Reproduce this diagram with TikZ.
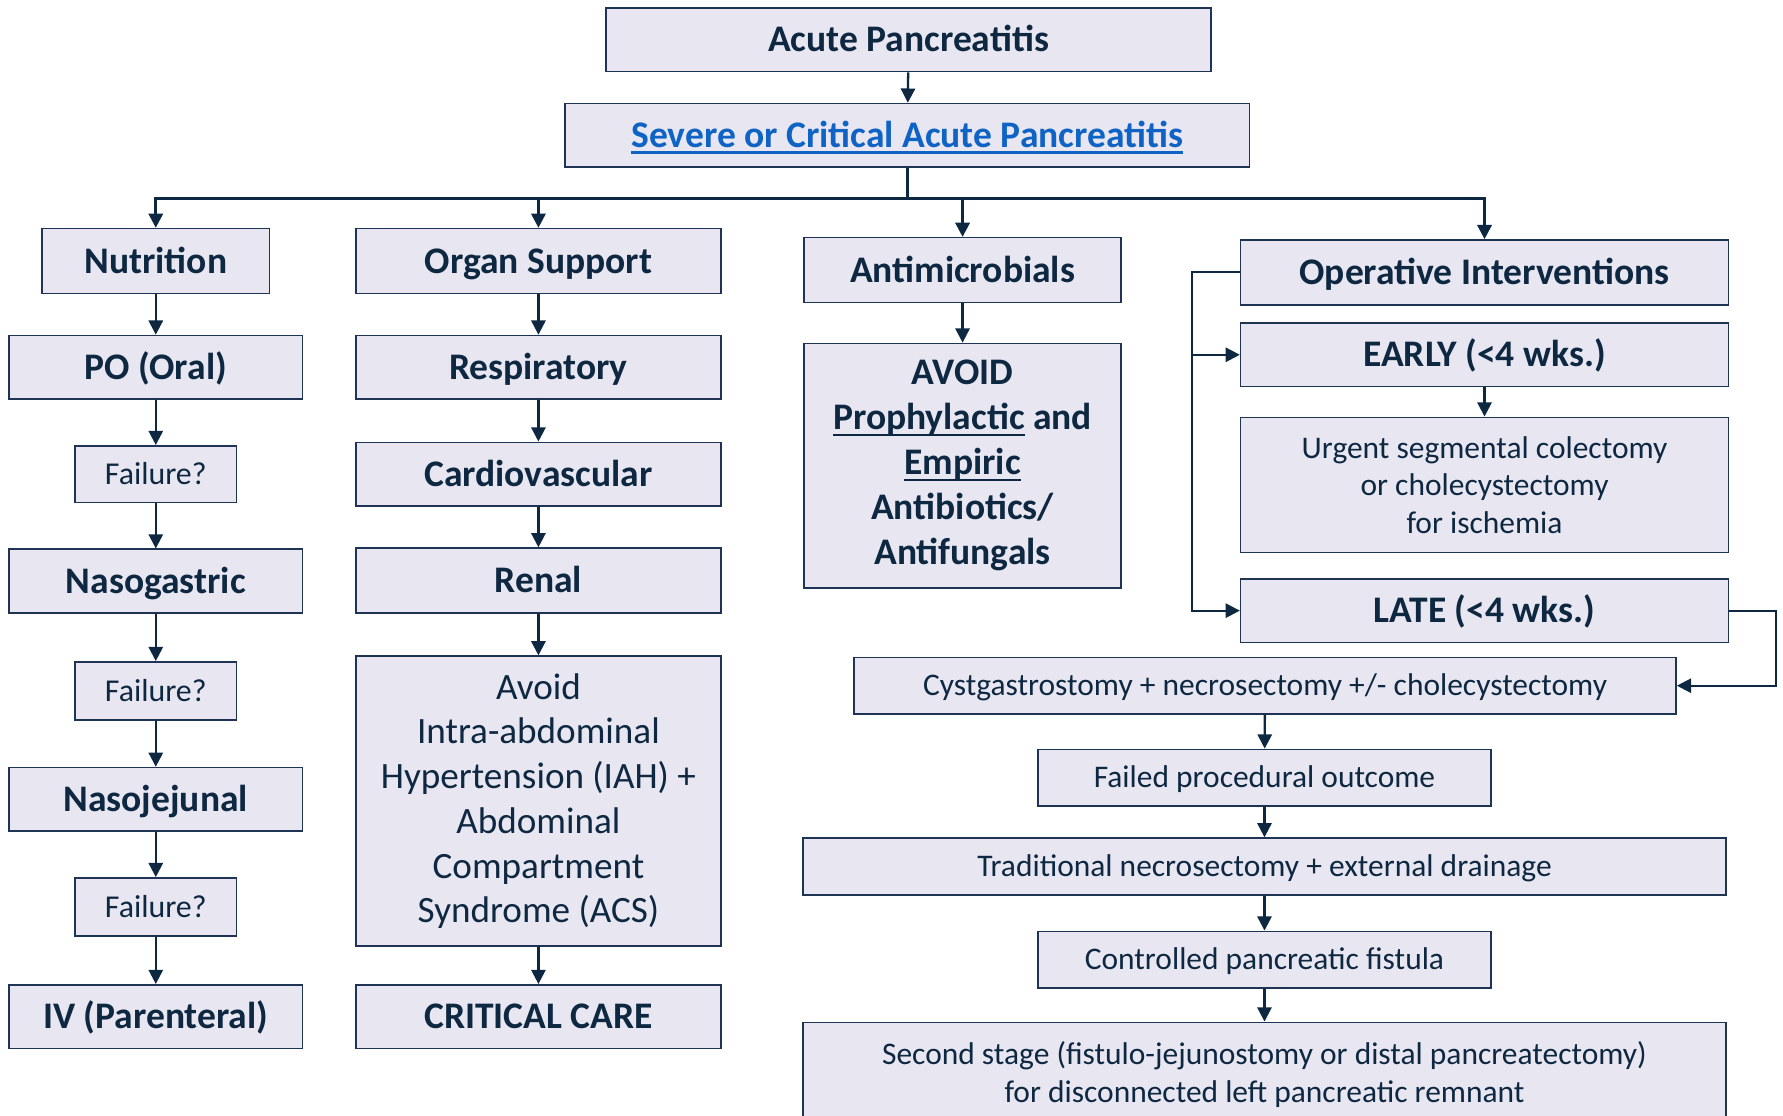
\documentclass[tikz,border=0pt]{standalone}
\usepackage{fontspec}
\setmainfont{Carlito}
\usetikzlibrary{arrows.meta}
\definecolor{fillc}{HTML}{E8E6F1}
\definecolor{navy}{HTML}{0E2841}
\definecolor{edgec}{HTML}{1F3355}
\definecolor{linkblue}{HTML}{0F63C5}
\newcommand\ulthick[1]{\setbox0\hbox{#1}\rlap{\box0}\setbox0\hbox{#1}\raisebox{-3.2pt}{\rule{\wd0}{1.1pt}}}
\tikzset{
  bx/.style 2 args={draw=edgec, line width=0.8pt, fill=fillc, text=navy, inner sep=0pt, align=center,
    minimum width=#1*0.6pt, minimum height=#2*0.6pt},
  bold/.style={font=\fontsize{19.8}{23.7}\selectfont\bfseries, text height=12.8pt, text depth=0pt},
  reg/.style={font=\fontsize{16.6}{19.8}\selectfont},
  reg1/.style={font=\fontsize{16.6}{19.8}\selectfont, text height=10.7pt, text depth=0pt},
  fl/.style={font=\fontsize{16.8}{20}\selectfont, text height=10.8pt, text depth=0pt},
  arr/.style={draw=navy, line width=1.2pt, -{Triangle[length=7.5pt,width=7.5pt]}},
  ln/.style={draw=navy, line width=1.2pt},
}
\begin{document}
\begin{tikzpicture}[x=0.6pt,y=-0.6pt]
\useasboundingbox (0,0) rectangle (1568,981);
% top
\node[bx={532}{56}, bold] (ap) at (799,35) {Acute Pancreatitis};
\node[bx={602}{56}, bold, text=linkblue] (sev) at (798,119) {\ulthick{Severe or Critical Acute Pancreatitis}};
% headers
\node[bx={200}{57}, bold] (nut) at (137,229.5) {Nutrition};
\node[bx={321}{57}, bold] (org) at (473.5,229.5) {Organ Support};
\node[bx={279}{57}, bold] (ant) at (846.5,237.5) {Antimicrobials};
\node[bx={429}{57}, bold] (op) at (1305.5,239.5) {Operative Interventions};
% column 1
\node[bx={258}{56}, bold] (po) at (137,323) {PO (Oral)};
\node[bx={142}{50}, fl] (f1) at (137,417) {Failure?};
\node[bx={258}{56}, bold] (ng) at (137,511) {Nasogastric};
\node[bx={142}{51}, fl] (f2) at (137,607.5) {Failure?};
\node[bx={258}{56}, bold] (nj) at (137,703) {Nasojejunal};
\node[bx={142}{51}, fl] (f3) at (137,797.5) {Failure?};
\node[bx={258}{56}, bold] (iv) at (137,894) {IV (Parenteral)};
% column 2
\node[bx={321}{56}, bold] (resp) at (473.5,323) {Respiratory};
\node[bx={321}{56}, bold] (cardio) at (473.5,417) {Cardiovascular};
\node[bx={321}{57}, bold] (renal) at (473.5,510.5) {Renal};
\node[bx={321}{255}, font=\fontsize{19.6}{23.6}\selectfont] (avoid) at (473.5,704.5)
  {Avoid\\Intra-abdominal\\Hypertension (IAH) +\\Abdominal\\Compartment\\Syndrome (ACS)};
\node[bx={321}{56}, bold] (cc) at (473.5,894) {CRITICAL CARE};
% column 3
\node[bx={279}{215}, font=\fontsize{19.8}{23.7}\selectfont\bfseries] (nopro) at (846.5,409.5)
  {AVOID\\\ulthick{Prophylactic} and\\\ulthick{Empiric}\\Antibiotics/\\Antifungals};
% column 4
\node[bx={429}{56}, bold] (early) at (1305.5,312) {EARLY (<4 wks.)};
\node[bx={429}{119}, reg] (urg) at (1305.5,426.5) {Urgent segmental colectomy\\or cholecystectomy\\for ischemia};
\node[bx={429}{56}, bold] (late) at (1305.5,537) {LATE (<4 wks.)};
\node[bx={723}{50}, reg1] (cyst) at (1112.5,603) {Cystgastrostomy + necrosectomy +/- cholecystectomy};
\node[bx={398}{50}, reg1] (fail) at (1112,684) {Failed procedural outcome};
\node[bx={812}{50}, reg1] (trad) at (1112,762) {Traditional necrosectomy + external drainage};
\node[bx={398}{50}, reg1] (ctrl) at (1112,844) {Controlled pancreatic fistula};
\node[bx={812}{92}, font=\fontsize{16.6}{20.4}\selectfont] (sec) at (1112,945)
  {Second stage (fistulo-jejunostomy or distal pancreatectomy)\\for disconnected left pancreatic remnant};
% connectors
\draw[arr] (ap) -- (sev);
\draw[ln, line width=1.5pt] (sev.south) -- ++(0,27) coordinate (br);
\draw[arr, line width=1.5pt] (br) -| (nut.north);
\draw[arr, line width=1.5pt] (br) -| (org.north);
\draw[arr, line width=1.5pt] (br) -| (ant.north);
\draw[arr, line width=1.5pt] (br) -| (op.north);
\draw[arr] (nut) -- (po);
\draw[arr] (po) -- (f1);
\draw[arr] (f1) -- (ng);
\draw[arr] (ng) -- (f2);
\draw[arr] (f2) -- (nj);
\draw[arr] (nj) -- (f3);
\draw[arr] (f3) -- (iv);
\draw[arr] (org) -- (resp);
\draw[arr] (resp) -- (cardio);
\draw[arr] (cardio) -- (renal);
\draw[arr] (renal) -- (avoid);
\draw[arr] (avoid) -- (cc);
\draw[arr] (ant) -- (nopro);
\draw[arr] (op.west) -- ++(-42,0) |- (early.west);
\draw[arr] (op.west) -- ++(-42,0) |- (late.west);
\draw[arr] (early) -- (urg);
\draw[arr] (late.east) -- ++(41,0) |- (cyst.east);
\draw[arr] (cyst) -- (fail);
\draw[arr] (fail) -- (trad);
\draw[arr] (trad) -- (ctrl);
\draw[arr] (ctrl) -- (sec);
\end{tikzpicture}
\end{document}
